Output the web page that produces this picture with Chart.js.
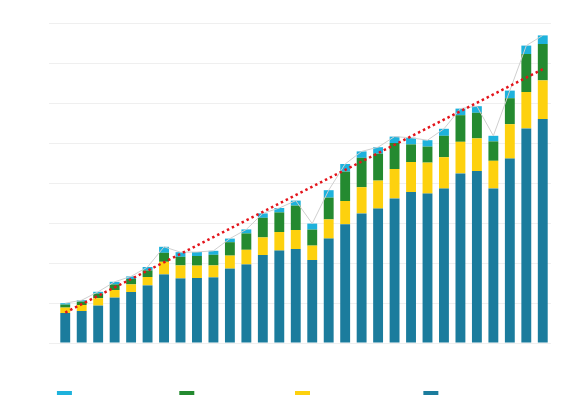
<!DOCTYPE html>
<html>
<head>
<meta charset="utf-8">
<script src="https://cdn.jsdelivr.net/npm/chart.js@4"></script>
<style>
  html, body { margin: 0; padding: 0; background: #ffffff; }
  #wrap { width: 563px; height: 399px; position: relative; }
</style>
</head>
<body>
<div id="wrap"><canvas id="chart"></canvas></div>
<script>
// Categories (30 periods)
const periods = Array.from({ length: 30 }, (_, i) => `P${i + 1}`);

// Stacked series, bottom to top
const seriesBase = [15, 16, 18.7, 22.7, 25.5, 28.8, 34.3, 32.3, 32.5, 32.8, 37.2, 39.3, 44, 46.2, 47,
  41.5, 52.2, 59.4, 64.8, 67.2, 72.3, 75.5, 74.7, 77.2, 84.8, 86, 77.3, 92.2, 107.3, 112];
const seriesYellow = [2.7, 3, 3.7, 3.8, 3.8, 4.2, 6.3, 6.5, 6.2, 6, 6.5, 7.3, 8.8, 9.3, 9.5,
  7.2, 9.6, 11.6, 13.1, 14, 14.7, 15, 15.5, 15.7, 15.8, 16.3, 13.8, 17.2, 18.2, 19.3];
const seriesGreen = [1.5, 1.7, 2.3, 2.8, 2.7, 3.3, 4.5, 4.3, 4.8, 5.3, 6.7, 8.2, 9.8, 9.8, 12.2,
  8, 10.9, 14.7, 14.7, 13.5, 13, 8.8, 8, 10.7, 13.3, 12.8, 9.7, 13, 19, 18.2];
const seriesCyan = [0.7, 0.7, 0.9, 1.3, 1.3, 1.7, 3, 2.3, 2, 2, 1.8, 2, 2.2, 2.2, 2.5,
  3, 3.7, 3.8, 3.2, 3.2, 3.2, 3.3, 3.2, 3.5, 3.3, 3.3, 2.8, 3.8, 4.2, 4.3];

// Trend line end points (first and last period)
const trendEnds = [15.2, 136.9];

// Legend names (top segment first)
const seriesNames = ['Series D top layer', 'Series C mid tier', 'Series B lower part', 'Series A base part'];

// Y axis ticks
const yTicks = [0, 20, 40, 60, 80, 100, 120, 140, 160];

const totals = seriesBase.map((v, i) => v + seriesYellow[i] + seriesGreen[i] + seriesCyan[i]);
const trend = periods.map((_, i) => (i === 0 ? trendEnds[0] : i === periods.length - 1 ? trendEnds[1] : null));

const colors = {
  base: '#1b7c9d',
  yellow: '#fdd10e',
  green: '#248a30',
  cyan: '#1eb2dc',
};

function barSet(label, data, color) {
  return {
    type: 'bar',
    label,
    data,
    backgroundColor: color,
    borderWidth: 0,
    stack: 'bars',
    barPercentage: 0.6,
    categoryPercentage: 1.0,
    order: 2,
  };
}

new Chart(document.getElementById('chart').getContext('2d'), {
  data: {
    labels: periods,
    datasets: [
      barSet(seriesNames[3], seriesBase, colors.base),
      barSet(seriesNames[2], seriesYellow, colors.yellow),
      barSet(seriesNames[1], seriesGreen, colors.green),
      barSet(seriesNames[0], seriesCyan, colors.cyan),
      {
        type: 'line',
        label: 'Total',
        data: totals,
        stack: 'total',
        borderColor: '#cfcfcf',
        borderWidth: 1,
        pointRadius: 0,
        fill: false,
        tension: 0,
        order: 1,
      },
      {
        type: 'line',
        label: 'Trend',
        data: trend,
        stack: 'trend',
        spanGaps: true,
        borderColor: '#e3141b',
        borderWidth: 2.5,
        borderDash: [2.5, 3],
        pointRadius: 0,
        fill: false,
        order: 0,
      },
    ],
  },
  options: {
    responsive: true,
    maintainAspectRatio: false,
    animation: false,
    layout: { padding: { left: 49, right: 12, top: 23, bottom: -10 } },
    plugins: {
      legend: {
        position: 'bottom',
        reverse: true,
        labels: {
          boxWidth: 15,
          boxHeight: 4,
          padding: 6,
          color: '#ffffff',
          font: { size: 12 },
          filter: item => item.text !== 'Total' && item.text !== 'Trend',
        },
      },
      tooltip: { enabled: false },
    },
    scales: {
      x: {
        stacked: true,
        grid: { display: false },
        border: { display: false },
        ticks: { display: false },
        afterFit: axis => { axis.height = 38; },
      },
      y: {
        stacked: true,
        min: 0,
        max: 160,
        afterBuildTicks: axis => { axis.ticks = yTicks.map(v => ({ value: v })); },
        grid: { color: '#efefef', lineWidth: 1 },
        border: { display: false },
        ticks: { display: false },
      },
    },
  },
});
</script>
</body>
</html>
